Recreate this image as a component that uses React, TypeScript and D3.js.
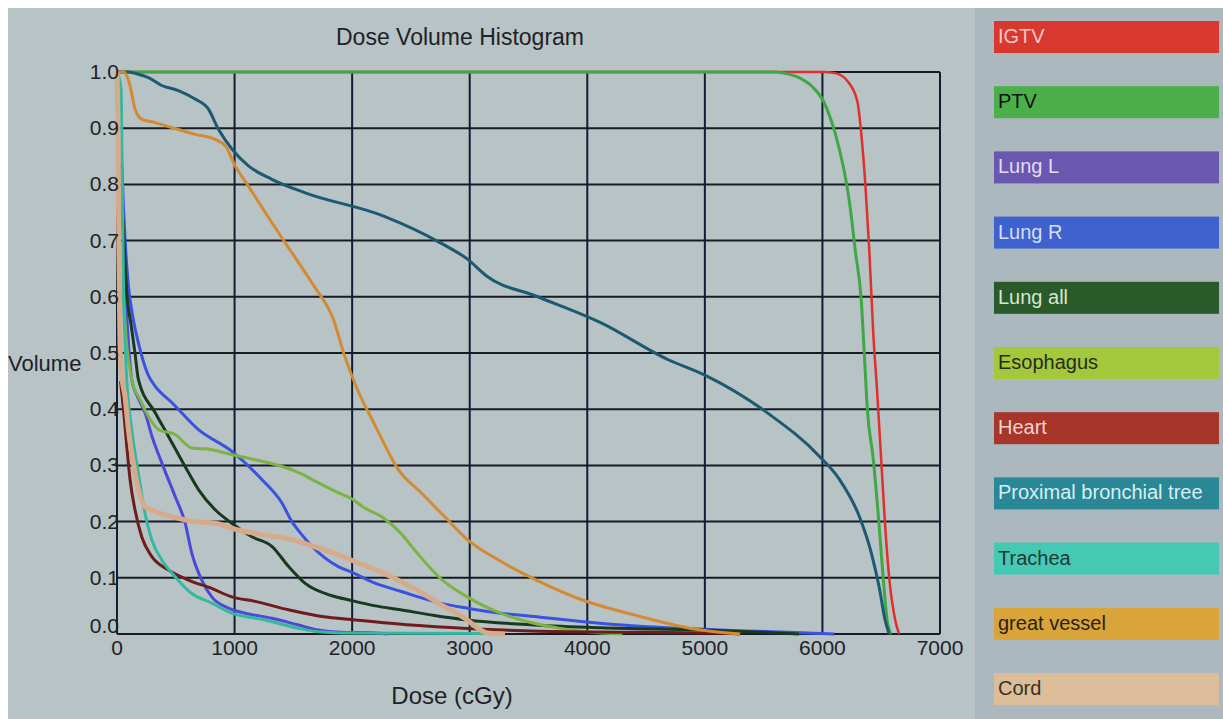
import React from 'react';
import * as d3 from 'd3';

// dose (cGy), volume fraction pairs
const igtv: [number, number][] = [
  [0, 1], [6000, 1], [6110, 0.998], [6212, 0.984], [6297, 0.948], [6331, 0.889], [6365, 0.8],
  [6399, 0.681], [6433, 0.533], [6466, 0.429], [6500, 0.31], [6534, 0.191], [6567, 0.102],
  [6619, 0.025], [6652, 0],
];
const ptv: [number, number][] = [
  [0, 1], [5600, 1], [5671, 0.998], [5800, 0.99], [5908, 0.975], [6009, 0.948], [6111, 0.889],
  [6179, 0.83], [6229, 0.77], [6280, 0.681], [6331, 0.592], [6355, 0.503], [6382, 0.4],
  [6433, 0.31], [6483, 0.191], [6516, 0.102], [6550, 0.025], [6584, 0],
];
const lungL: [number, number][] = [
  [45, 0.77], [60, 0.68], [80, 0.58], [100, 0.51], [125, 0.453], [180, 0.42], [238, 0.394],
  [300, 0.35], [380, 0.305], [494, 0.245], [579, 0.198], [636, 0.144], [721, 0.096], [806, 0.066],
  [948, 0.046], [1090, 0.037], [1317, 0.028], [1544, 0.016], [1712, 0.007], [1900, 0.003],
  [2200, 0.002], [2300, 0],
];
const lungR: [number, number][] = [
  [40, 0.84], [55, 0.76], [75, 0.68], [97, 0.62], [130, 0.57], [182, 0.518], [267, 0.46],
  [324, 0.441], [466, 0.412], [690, 0.364], [977, 0.325], [1232, 0.275], [1403, 0.233],
  [1488, 0.2], [1559, 0.18], [1658, 0.156], [1882, 0.12], [1985, 0.111], [2200, 0.09],
  [2411, 0.076], [2751, 0.055], [2979, 0.046], [3262, 0.037], [3600, 0.03], [3969, 0.022],
  [4300, 0.016], [4682, 0.011], [5300, 0.006], [6000, 0.001], [6100, 0],
];
const lungAll: [number, number][] = [
  [50, 0.74], [83, 0.607], [120, 0.55], [153, 0.5], [182, 0.453], [324, 0.394], [437, 0.352],
  [579, 0.298], [693, 0.257], [835, 0.221], [977, 0.197], [1147, 0.173], [1317, 0.156],
  [1460, 0.12], [1601, 0.09], [1829, 0.068], [1985, 0.06], [2200, 0.05], [2411, 0.043],
  [2700, 0.033], [2979, 0.025], [3546, 0.016], [4114, 0.011], [4966, 0.007], [5500, 0.003],
  [5800, 0],
];
const esophagus: [number, number][] = [
  [50, 0.62], [80, 0.52], [110, 0.47], [140, 0.44], [182, 0.423], [267, 0.387], [352, 0.364],
  [494, 0.355], [636, 0.331], [806, 0.328], [977, 0.319], [1175, 0.31], [1403, 0.298],
  [1559, 0.286], [1658, 0.275], [1885, 0.251], [1985, 0.242], [2100, 0.225], [2269, 0.206],
  [2411, 0.18], [2553, 0.144], [2751, 0.099], [2979, 0.066], [3262, 0.037], [3546, 0.019],
  [3773, 0.01], [4000, 0.004], [4300, 0],
];
const heart: [number, number][] = [
  [30, 0.45], [55, 0.4], [83, 0.334], [111, 0.275], [153, 0.221], [210, 0.173], [295, 0.138],
  [437, 0.114], [607, 0.096], [806, 0.081], [977, 0.066], [1175, 0.058], [1460, 0.043],
  [1743, 0.031], [2027, 0.025], [2500, 0.016], [2979, 0.01], [3830, 0.004], [4500, 0.003],
  [5230, 0.001], [5300, 0],
];
const proximal: [number, number][] = [
  [0, 1], [97, 1], [182, 0.996], [267, 0.99], [380, 0.976], [522, 0.967], [664, 0.952],
  [778, 0.934], [863, 0.898], [977, 0.863], [1118, 0.833], [1317, 0.809], [1601, 0.785],
  [2263, 0.744], [2751, 0.696], [2981, 0.667], [3143, 0.637], [3567, 0.601], [4114, 0.554],
  [4689, 0.488], [4987, 0.462], [5535, 0.393], [5975, 0.316], [6145, 0.275], [6314, 0.209],
  [6416, 0.144], [6482, 0.084], [6533, 0.025], [6567, 0],
];
const trachea: [number, number][] = [
  [0, 1], [35, 0.97], [45, 0.8], [55, 0.62], [68, 0.52], [83, 0.453], [125, 0.364], [182, 0.286],
  [238, 0.215], [295, 0.168], [380, 0.132], [494, 0.102], [636, 0.072], [806, 0.055],
  [977, 0.037], [1261, 0.025], [1544, 0.01], [1715, 0.004], [1900, 0.002], [3150, 0.001],
  [3200, 0],
];
const greatVessel: [number, number][] = [
  [0, 1], [60, 1], [90, 0.99], [111, 0.976], [153, 0.934], [210, 0.916], [324, 0.91],
  [466, 0.901], [664, 0.889], [835, 0.88], [920, 0.869], [1005, 0.833], [1118, 0.797],
  [1261, 0.75], [1431, 0.696], [1601, 0.643], [1676, 0.619], [1840, 0.56], [1937, 0.494],
  [2035, 0.44], [2198, 0.37], [2394, 0.292], [2589, 0.251], [2785, 0.209], [2980, 0.168],
  [3241, 0.132], [3567, 0.096], [3965, 0.06], [4398, 0.034], [4966, 0.007], [5300, 0],
];
const cord: [number, number][] = [
  [0, 1], [8, 0.9], [15, 0.7], [25, 0.52], [40, 0.46], [68, 0.423], [97, 0.364], [139, 0.304],
  [182, 0.257], [238, 0.227], [324, 0.218], [466, 0.209], [664, 0.2], [835, 0.197],
  [1033, 0.185], [1261, 0.176], [1488, 0.168], [1715, 0.153], [1885, 0.141], [1985, 0.132],
  [2269, 0.108], [2553, 0.078], [2780, 0.049], [2979, 0.025], [3092, 0.007], [3149, 0.002],
  [3300, 0],
];

const structures = [
  'IGTV', 'PTV', 'Lung L', 'Lung R', 'Lung all', 'Esophagus', 'Heart',
  'Proximal bronchial tree', 'Trachea', 'great vessel', 'Cord',
];
const seriesData = [igtv, ptv, lungL, lungR, lungAll, esophagus, heart, proximal, trachea, greatVessel, cord];
const lineColors = [
  '#e0302c', '#3fa845', '#4a4ad6', '#3a52e0', '#173a1e', '#7cb342', '#6e1c1c',
  '#1b5a70', '#36b8a0', '#d38a32', '#d6aa8a',
];
const lineWidths = [2.5, 3, 3, 3, 3, 3, 3, 3, 3, 3, 5];
const boxColors = [
  '#d8382f', '#4bb04a', '#6a58b0', '#3f62cf', '#2a5a2a', '#a3c83c', '#a8352a',
  '#2a8796', '#45c9b4', '#d9a53a', '#dcbd9a',
];
const boxText = [
  '#f4c8c4', '#111', '#e4dcf4', '#d6def8', '#d6e6d2', '#2a2a1a', '#f2d4cc',
  '#d8eef2', '#1e3a36', '#2a2210', '#3a3026',
];
const xTicks = [0, 1000, 2000, 3000, 4000, 5000, 6000, 7000];
const yTicks = [0, 0.1, 0.2, 0.3, 0.4, 0.5, 0.6, 0.7, 0.8, 0.9, 1.0];

const W = 1223;
const H = 719;
const font = '"Liberation Sans", Arial, sans-serif';

export default function App() {
  const x = d3.scaleLinear().domain([0, 7000]).range([117, 940]);
  const y = d3.scaleLinear().domain([0, 1]).range([634, 72]);
  const line = d3.line<[number, number]>()
    .x(d => x(d[0]))
    .y(d => y(d[1]))
    .curve(d3.curveMonotoneX);
  const legendY = d3.scaleLinear().domain([0, 10]).range([21, 673]);

  return (
    <div style={{ position: 'fixed', left: 0, top: 0 }}>
      <svg width={W} height={H} style={{ display: 'block' }}>
        <rect x={0} y={0} width={W} height={H} fill="#ffffff" />
        <rect x={8} y={8} width={W - 8} height={H - 8} fill="#b8c3c6" />
        <rect x={975} y={8} width={W - 975} height={H - 8} fill="#abb8be" />

        {/* grid */}
        {yTicks.map(t => (
          <line key={'h' + t} x1={x(0)} x2={x(7000)} y1={y(t)} y2={y(t)} stroke="#161b24" strokeWidth={2} />
        ))}
        {xTicks.map(t => (
          <line key={'v' + t} x1={x(t)} x2={x(t)} y1={y(1)} y2={y(0)} stroke="#0f1e34" strokeWidth={2} />
        ))}

        {/* curves */}
        {seriesData.map((s, i) => (
          <path key={structures[i]} d={line(s) || ''} fill="none" stroke={lineColors[i]}
            strokeWidth={lineWidths[i]} strokeLinejoin="round" />
        ))}

        {/* axes labels */}
        <g fontFamily={font} fill="#1e2226">
          {yTicks.map(t => (
            <text key={'yl' + t} x={x(0) + 2} y={t === 0 ? y(t) - 1 : y(t) + 7} fontSize={21} textAnchor="end">
              {d3.format('.1f')(t)}
            </text>
          ))}
          {xTicks.map(t => (
            <text key={'xl' + t} x={x(t)} y={y(0) + 21} fontSize={21} textAnchor="middle">
              {t}
            </text>
          ))}
          <text x={460} y={45} fontSize={23} textAnchor="middle">Dose Volume Histogram</text>
          <text x={8} y={371} fontSize={22}>Volume</text>
          <text x={452} y={704} fontSize={24} textAnchor="middle">Dose (cGy)</text>
        </g>

        {/* legend */}
        <g fontFamily={font}>
          {structures.map((name, i) => (
            <g key={name} transform={`translate(994,${legendY(i)})`}>
              <rect width={225} height={32} fill={boxColors[i]} />
              <text x={4} y={22} fontSize={20} fill={boxText[i]}>{name}</text>
            </g>
          ))}
        </g>
      </svg>
    </div>
  );
}
